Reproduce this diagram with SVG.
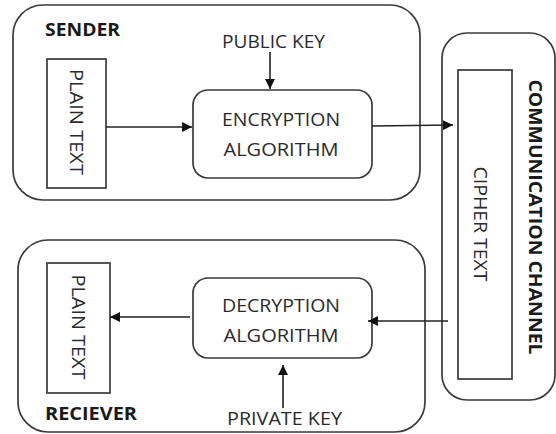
<svg xmlns="http://www.w3.org/2000/svg" width="556" height="434" viewBox="0 0 556 434">
<style>
.box{fill:none;stroke:#3a3a3a;stroke-width:1.7}
.t{font-family:"Open Sans","Noto Sans","Liberation Sans",sans-serif;font-size:18px;fill:#2a2a2a}
.b{font-weight:bold;fill:#1a1a1a}
.c{stroke:#222;stroke-width:1.6;fill:none}
</style>
<defs>
<marker id="ah" viewBox="0 0 10 10" refX="10" refY="5" markerWidth="10" markerHeight="10" markerUnits="userSpaceOnUse" orient="auto">
<path d="M0,0 L10,5 L0,10 Z" fill="#111"/>
</marker>
</defs>
<rect width="556" height="434" fill="#fff"/>
<g id="sender">
<rect class="box" x="13" y="5" width="407" height="195" rx="30"/>
<text class="t b" x="45" y="36" font-size="16" textLength="75" lengthAdjust="spacingAndGlyphs">SENDER</text>
</g>
<g id="public-key">
<text class="t" x="222" y="48" font-size="17" textLength="103" lengthAdjust="spacingAndGlyphs">PUBLIC KEY</text>
</g>
<g id="plain-text-sender">
<rect class="box" x="47" y="59" width="59" height="129"/>
<text class="t" transform="translate(76,122) rotate(90)" text-anchor="middle" dy="0.36em" textLength="106" lengthAdjust="spacingAndGlyphs">PLAIN TEXT</text>
</g>
<g id="encryption">
<rect class="box" x="193" y="90" width="179" height="88" rx="15"/>
<text class="t" x="281" y="126" text-anchor="middle" textLength="118" lengthAdjust="spacingAndGlyphs">ENCRYPTION</text>
<text class="t" x="281" y="156" text-anchor="middle" textLength="115" lengthAdjust="spacingAndGlyphs">ALGORITHM</text>
</g>
<g id="channel">
<rect class="box" x="442" y="33" width="113" height="367" rx="25"/>
<text class="t b" transform="translate(535,217) rotate(90)" text-anchor="middle" dy="0.36em" font-size="17" textLength="275" lengthAdjust="spacingAndGlyphs">COMMUNICATION CHANNEL</text>
</g>
<g id="cipher-text">
<rect class="box" x="458" y="70" width="54" height="309"/>
<text class="t" transform="translate(480,224) rotate(90)" text-anchor="middle" dy="0.36em" textLength="115" lengthAdjust="spacingAndGlyphs">CIPHER TEXT</text>
</g>
<g id="receiver">
<rect class="box" x="18" y="240" width="407" height="192" rx="30"/>
<text class="t b" x="45" y="420" font-size="17" textLength="92" lengthAdjust="spacingAndGlyphs">RECIEVER</text>
</g>
<g id="plain-text-receiver">
<rect class="box" x="47" y="263" width="63" height="130"/>
<text class="t" transform="translate(78,327) rotate(90)" text-anchor="middle" dy="0.36em" textLength="105" lengthAdjust="spacingAndGlyphs">PLAIN TEXT</text>
</g>
<g id="decryption">
<rect class="box" x="193" y="278" width="179" height="80" rx="15"/>
<text class="t" x="281" y="312" text-anchor="middle" textLength="118" lengthAdjust="spacingAndGlyphs">DECRYPTION</text>
<text class="t" x="281" y="342" text-anchor="middle" textLength="115" lengthAdjust="spacingAndGlyphs">ALGORITHM</text>
</g>
<g id="private-key">
<text class="t" x="227" y="425" textLength="115" lengthAdjust="spacingAndGlyphs">PRIVATE KEY</text>
</g>
<g id="connectors">
<line class="c" x1="270" y1="52" x2="270" y2="89" marker-end="url(#ah)"/>
<line class="c" x1="106" y1="127" x2="192" y2="127" marker-end="url(#ah)"/>
<line class="c" x1="372" y1="126" x2="453" y2="125" marker-end="url(#ah)"/>
<line class="c" x1="448" y1="321" x2="368" y2="321" marker-end="url(#ah)"/>
<line class="c" x1="190" y1="317" x2="110" y2="317" marker-end="url(#ah)"/>
<line class="c" x1="283" y1="408" x2="283" y2="365" marker-end="url(#ah)"/>
</g>
</svg>
